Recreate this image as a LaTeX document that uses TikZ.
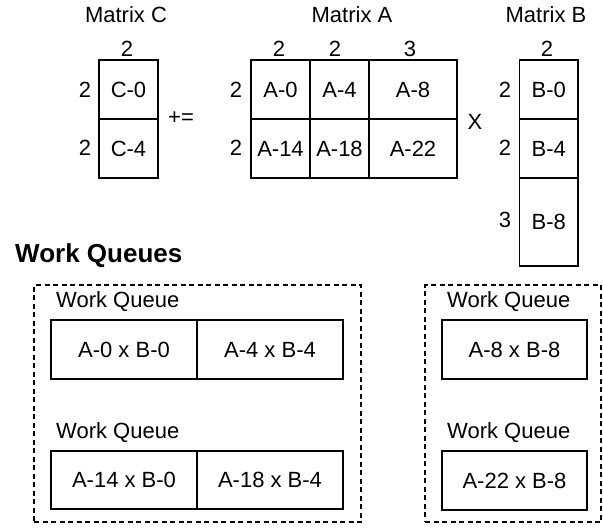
\documentclass[tikz,border=0pt]{standalone}
\usepackage{fontspec}
\setmainfont{Liberation Sans}
\begin{document}
\begin{tikzpicture}[x=1pt,y=-1pt,
  lbl/.style={inner sep=0pt, font=\fontsize{22}{26}\selectfont},
  cell/.style={draw, line width=1.6pt, inner sep=0pt, font=\fontsize{22}{26}\selectfont},
  task/.style={cell, minimum height=59pt},
  queue/.style={draw, dash pattern=on 5pt off 3.5pt, line width=1.5pt, inner sep=0pt},
  heading/.style={inner sep=0pt, font=\fontsize{26}{30}\selectfont\bfseries}]
\useasboundingbox (0,0) rectangle (603,531);

% Matrix C
\node[lbl] (tc) at (126,15) {Matrix C};
\node[cell, minimum width=59pt, minimum height=59pt] (c0) at (128.5,89.5) {C-0};
\node[cell, minimum width=59pt, minimum height=59pt] (c4) at (128.5,148.5) {C-4};
\node[lbl] (cw) at (127,49) {2};
\node[lbl] (ch0) at (85,90) {2};
\node[lbl] (ch4) at (85,148) {2};
\node[lbl] (pluseq) at (181,118) {+=};

% Matrix A
\node[lbl] (ta) at (352,15) {Matrix A};
\node[cell, minimum width=59pt, minimum height=59pt] (a0) at (280.5,89.5) {A-0};
\node[cell, minimum width=59pt, minimum height=59pt] (a4) at (339.5,89.5) {A-4};
\node[cell, minimum width=88pt, minimum height=59pt] (a8) at (413,89.5) {A-8};
\node[cell, minimum width=59pt, minimum height=59pt] (a14) at (280.5,148.5) {A-14};
\node[cell, minimum width=59pt, minimum height=59pt] (a18) at (339.5,148.5) {A-18};
\node[cell, minimum width=88pt, minimum height=59pt] (a22) at (413,148.5) {A-22};
\node[lbl] (aw0) at (279,49) {2};
\node[lbl] (aw4) at (335,49) {2};
\node[lbl] (aw8) at (410,49) {3};
\node[lbl] (ah0) at (236,90) {2};
\node[lbl] (ah1) at (236,148) {2};
\node[lbl] (times) at (475,122) {X};

% Matrix B
\node[lbl] (tb) at (546,15) {Matrix B};
\node[cell, minimum width=58.5pt, minimum height=59pt] (b0) at (548.75,89.5) {B-0};
\node[cell, minimum width=58.5pt, minimum height=59pt] (b4) at (548.75,148.5) {B-4};
\node[cell, minimum width=58.5pt, minimum height=88pt] (b8) at (548.75,222) {B-8};
\node[lbl] (bw) at (547,49) {2};
\node[lbl] (bh0) at (505,90) {2};
\node[lbl] (bh4) at (505,148) {2};
\node[lbl] (bh8) at (505,220) {3};

% Work queues
\node[heading, anchor=west] (wqs) at (15,256) {Work Queues};

\node[queue, minimum width=327pt, minimum height=237pt] (grp1) at (197.5,403.5) {};
\node[queue, minimum width=176pt, minimum height=237pt] (grp2) at (513,403.5) {};

\node[lbl, anchor=west] (q1) at (56,302) {Work Queue};
\node[task, minimum width=146pt] (t1) at (124,349.5) {A-0 x B-0};
\node[task, minimum width=146pt] (t2) at (270,349.5) {A-4 x B-4};

\node[lbl, anchor=west] (q2) at (56,433) {Work Queue};
\node[task, minimum width=146pt, minimum height=58pt] (t3) at (124,480) {A-14 x B-0};
\node[task, minimum width=146pt, minimum height=58pt] (t4) at (270,480) {A-18 x B-4};

\node[lbl, anchor=west] (q3) at (447,302) {Work Queue};
\node[task, minimum width=145pt] (t5) at (514.5,349.5) {A-8 x B-8};

\node[lbl, anchor=west] (q4) at (447,433) {Work Queue};
\node[task, minimum width=145pt] (t6) at (514.5,480.5) {A-22 x B-8};
\end{tikzpicture}
\end{document}
